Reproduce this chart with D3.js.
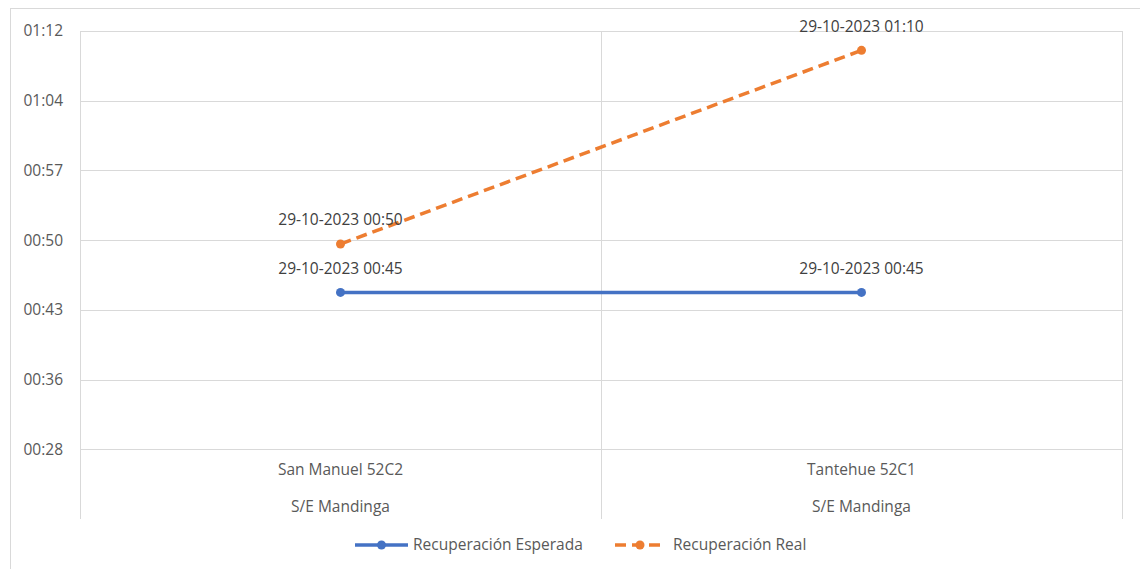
<!DOCTYPE html>
<html>
<head>
<meta charset="utf-8">
<script src="https://cdn.jsdelivr.net/npm/d3@7"></script>
<style>
  body { margin: 0; background: #fff; }
  svg { font-family: "Open Sans", sans-serif; }
</style>
</head>
<body>
<svg id="chart" width="1140" height="569"></svg>
<script>
// category names (two lines each)
var categories = ["San Manuel 52C2", "Tantehue 52C1"];
var subCategories = ["S/E Mandinga", "S/E Mandinga"];

// recovery times (date + time)
var esperada = ["29-10-2023 00:45", "29-10-2023 00:45"];
var real = ["29-10-2023 00:50", "29-10-2023 01:10"];

// y axis in fractions of a day (Excel style)
var yMin = 0.015, yMax = 0.05;
var yTicks = [0.02, 0.025, 0.03, 0.035, 0.04, 0.045, 0.05];

var seriesNames = ["Recuperación Esperada", "Recuperación Real"];

var parse = d3.timeParse("%d-%m-%Y %H:%M");
function dayFrac(s) {
    var d = parse(s);
    return (d.getHours() * 60 + d.getMinutes()) / 1440;
}
function fmtTick(v) {
    var mins = Math.floor(v * 1440 + 1e-6);
    return d3.format("02")(Math.floor(mins / 60)) + ":" + d3.format("02")(mins % 60);
}

var svg = d3.select("#chart");
var plotLeft = 80, plotRight = 1122, plotTop = 31, plotBottom = 519;
var fs = 15.5;

// chart border
svg.append("rect")
    .attr("x", 10.5).attr("y", 8.5)
    .attr("width", 1140).attr("height", 600)
    .attr("fill", "none").attr("stroke", "#d9d9d9");

var x = d3.scaleBand().domain(categories).range([plotLeft, plotRight]);
var y = d3.scaleLinear().domain([yMin, yMax]).range([plotBottom, plotTop]);

// horizontal gridlines
svg.append("g").selectAll("line").data(yTicks).enter().append("line")
    .attr("x1", plotLeft).attr("x2", plotRight)
    .attr("y1", function(d) { return Math.round(y(d)) + 0.5; })
    .attr("y2", function(d) { return Math.round(y(d)) + 0.5; })
    .attr("stroke", "#d9d9d9").attr("stroke-width", 1);

// vertical gridlines at category edges
var edges = [plotLeft].concat(categories.map(function(c) { return x(c) + x.bandwidth(); }));
svg.append("g").selectAll("line").data(edges).enter().append("line")
    .attr("x1", function(d) { return Math.round(d) + 0.5; })
    .attr("x2", function(d) { return Math.round(d) + 0.5; })
    .attr("y1", plotTop).attr("y2", plotBottom)
    .attr("stroke", "#d9d9d9").attr("stroke-width", 1);

// y tick labels
svg.append("g").selectAll("text").data(yTicks).enter().append("text")
    .attr("x", 63)
    .attr("y", function(d) { return y(d); })
    .attr("dy", "0.35em")
    .attr("text-anchor", "end")
    .attr("font-size", fs)
    .attr("fill", "#595959")
    .text(fmtTick);

// category labels
svg.append("g").selectAll("text").data(categories).enter().append("text")
    .attr("x", function(d) { return x(d) + x.bandwidth() / 2; })
    .attr("y", 470).attr("dy", "0.35em")
    .attr("text-anchor", "middle").attr("font-size", fs).attr("fill", "#595959")
    .text(function(d) { return d; });
svg.append("g").selectAll("text").data(subCategories).enter().append("text")
    .attr("x", function(d, i) { return x(categories[i]) + x.bandwidth() / 2; })
    .attr("y", 507).attr("dy", "0.35em")
    .attr("text-anchor", "middle").attr("font-size", fs).attr("fill", "#595959")
    .text(function(d) { return d; });

var series = [
    { name: seriesNames[0], values: esperada, color: "#4472C4", dash: null },
    { name: seriesNames[1], values: real, color: "#ED7D31", dash: "11,6" }
];

var line = d3.line()
    .x(function(d, i) { return x(categories[i]) + x.bandwidth() / 2; })
    .y(function(d) { return y(dayFrac(d)); });

series.forEach(function(s) {
    svg.append("path")
        .datum(s.values)
        .attr("d", line)
        .attr("fill", "none")
        .attr("stroke", s.color)
        .attr("stroke-width", 3.5)
        .attr("stroke-dasharray", s.dash);

    svg.append("g").selectAll("circle").data(s.values).enter().append("circle")
        .attr("cx", function(d, i) { return x(categories[i]) + x.bandwidth() / 2; })
        .attr("cy", function(d) { return y(dayFrac(d)); })
        .attr("r", 4.5)
        .attr("fill", s.color);

    svg.append("g").selectAll("text").data(s.values).enter().append("text")
        .attr("x", function(d, i) { return x(categories[i]) + x.bandwidth() / 2; })
        .attr("y", function(d) { return y(dayFrac(d)) - 24; })
        .attr("dy", "0.35em")
        .attr("text-anchor", "middle")
        .attr("font-size", fs)
        .attr("fill", "#404040")
        .text(function(d) { return d; });
});

// legend
var legend = svg.append("g");
var legX = [355, 615];
series.forEach(function(s, i) {
    var g = legend.append("g").attr("transform", "translate(" + legX[i] + ",545)");
    g.append("line")
        .attr("x1", 0).attr("x2", i === 0 ? 53 : 48)
        .attr("stroke", s.color).attr("stroke-width", 3.5)
        .attr("stroke-dasharray", s.dash ? "11,6" : null);
    g.append("circle").attr("cx", i === 0 ? 26.5 : 25).attr("r", 4.5).attr("fill", s.color);
    g.append("text")
        .attr("x", 58).attr("dy", "0.35em")
        .attr("font-size", fs).attr("fill", "#595959")
        .text(s.name);
});
</script>
</body>
</html>
